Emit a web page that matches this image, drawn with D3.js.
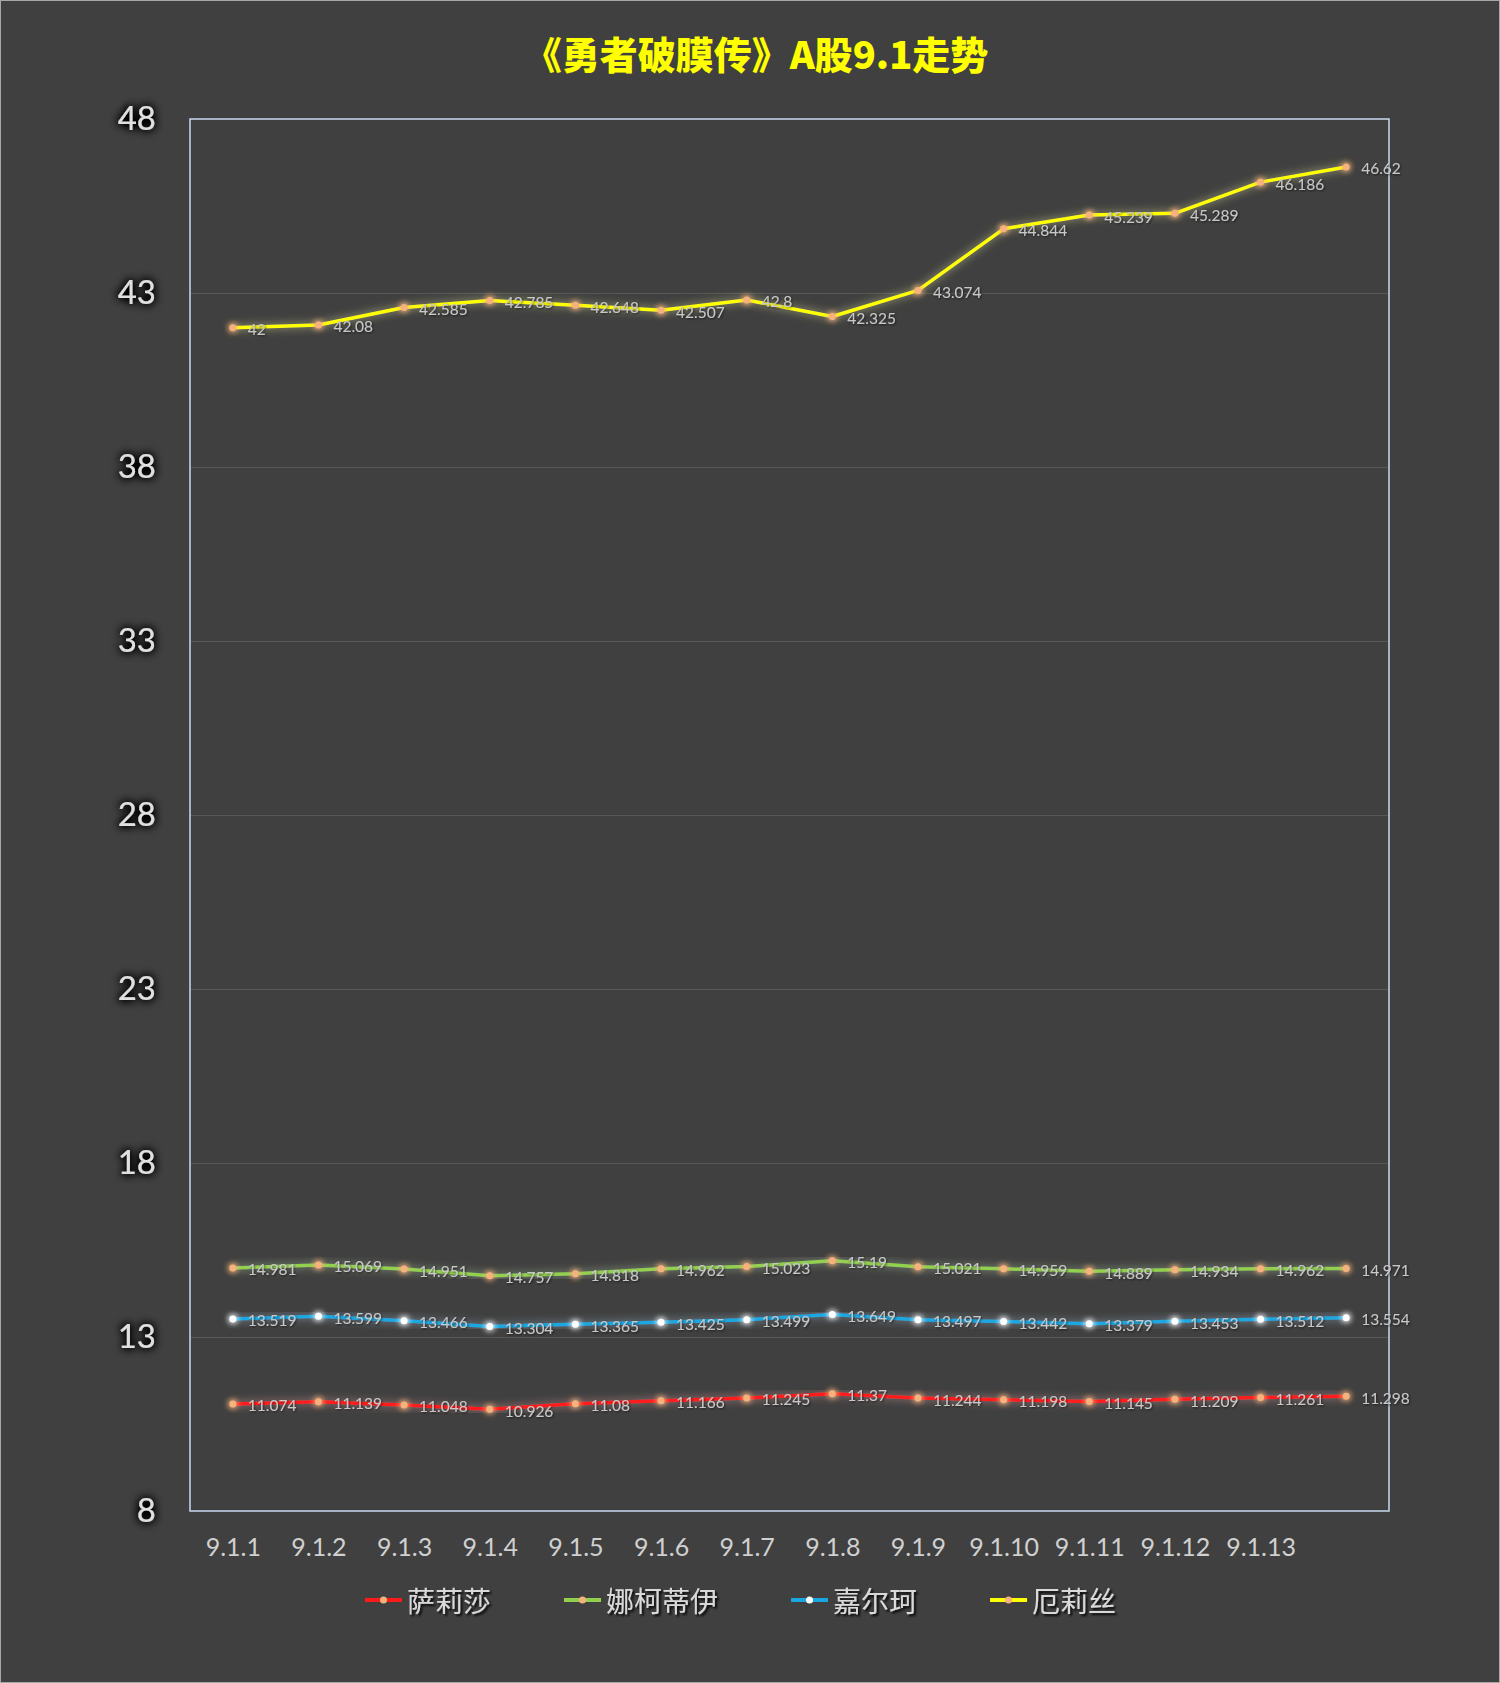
<!DOCTYPE html>
<html>
<head>
<meta charset="utf-8">
<script src="https://cdnjs.cloudflare.com/ajax/libs/d3/7.8.5/d3.min.js"></script>
<style>
  body { margin: 0; background: #404040; }
  svg { display: block; }
</style>
</head>
<body>
<div id="chart"></div>
<script>
// chart data
var dates = ["9.1.1", "9.1.2", "9.1.3", "9.1.4", "9.1.5", "9.1.6", "9.1.7",
  "9.1.8", "9.1.9", "9.1.10", "9.1.11", "9.1.12", "9.1.13", ""];
var seriesNames = ["萨莉莎", "娜柯蒂伊", "嘉尔珂", "厄莉丝"];
var salisha = [11.074, 11.139, 11.048, 10.926, 11.08, 11.166, 11.245, 11.37, 11.244, 11.198, 11.145, 11.209, 11.261, 11.298];
var nakediyi = [14.981, 15.069, 14.951, 14.757, 14.818, 14.962, 15.023, 15.19, 15.021, 14.959, 14.889, 14.934, 14.962, 14.971];
var jiaerke = [13.519, 13.599, 13.466, 13.304, 13.365, 13.425, 13.499, 13.649, 13.497, 13.442, 13.379, 13.453, 13.512, 13.554];
var elisi = [42, 42.08, 42.585, 42.785, 42.648, 42.507, 42.8, 42.325, 43.074, 44.844, 45.239, 45.289, 46.186, 46.62];
var yTicks = [8, 13, 18, 23, 28, 33, 38, 43, 48];

var lineColors = ["#ff1a1a", "#92d050", "#1aa7e0", "#ffff00"];
var markerColors = ["#f6b27c", "#f6b27c", "#ffffff", "#f6b27c"];

var svgWidth = 1500;
var svgHeight = 1683;

var margin = { top: 119, right: 111, bottom: 172, left: 190 };
var width = svgWidth - margin.left - margin.right;
var height = svgHeight - margin.top - margin.bottom;

var svg = d3.select("#chart")
  .append("svg")
  .attr("width", svgWidth)
  .attr("height", svgHeight);

// filters: glow for lines/markers, dark halo for text
var defs = svg.append("defs");

var glow = defs.append("filter").attr("id", "glow")
  .attr("x", "-20%").attr("y", "-20%").attr("width", "140%").attr("height", "140%");
glow.append("feGaussianBlur").attr("in", "SourceGraphic").attr("stdDeviation", 4.5).attr("result", "blur");
glow.append("feColorMatrix").attr("in", "blur").attr("type", "matrix")
  .attr("values", "0.5 0 0 0 0.35  0 0.5 0 0 0.35  0 0 0.5 0 0.35  0 0 0 0.7 0")
  .attr("result", "soft");
var gm = glow.append("feMerge");
gm.append("feMergeNode").attr("in", "soft");
gm.append("feMergeNode").attr("in", "SourceGraphic");

var mglow = defs.append("filter").attr("id", "mglow")
  .attr("x", "-150%").attr("y", "-150%").attr("width", "400%").attr("height", "400%");
mglow.append("feGaussianBlur").attr("in", "SourceGraphic").attr("stdDeviation", 3).attr("result", "blur");
var mm = mglow.append("feMerge");
mm.append("feMergeNode").attr("in", "blur");
mm.append("feMergeNode").attr("in", "blur");
mm.append("feMergeNode").attr("in", "SourceGraphic");

var halo = defs.append("filter").attr("id", "halo")
  .attr("x", "-40%").attr("y", "-40%").attr("width", "180%").attr("height", "180%");
halo.append("feGaussianBlur").attr("in", "SourceAlpha").attr("stdDeviation", 5).attr("result", "b");
halo.append("feComponentTransfer").attr("in", "b").attr("result", "b2")
  .append("feFuncA").attr("type", "linear").attr("slope", 2.5);
var hm = halo.append("feMerge");
hm.append("feMergeNode").attr("in", "b2");
hm.append("feMergeNode").attr("in", "SourceGraphic");

var shadow = defs.append("filter").attr("id", "shadow")
  .attr("x", "-20%").attr("y", "-20%").attr("width", "140%").attr("height", "150%");
shadow.append("feDropShadow").attr("dx", 2).attr("dy", 2).attr("stdDeviation", 1.2)
  .attr("flood-color", "#000").attr("flood-opacity", 0.9);

var lblShadow = defs.append("filter").attr("id", "lblShadow")
  .attr("x", "-20%").attr("y", "-30%").attr("width", "140%").attr("height", "160%");
lblShadow.append("feDropShadow").attr("dx", 1).attr("dy", 1).attr("stdDeviation", 1)
  .attr("flood-color", "#000").attr("flood-opacity", 0.6);

// background and outer border
svg.append("rect")
  .attr("x", 0.5).attr("y", 0.5)
  .attr("width", svgWidth - 1).attr("height", svgHeight - 1)
  .attr("fill", "#404040")
  .attr("stroke", "#a8a8a8");

// title
svg.append("text")
  .attr("x", 756)
  .attr("y", 52)
  .attr("text-anchor", "middle")
  .attr("dominant-baseline", "central")
  .style("font-family", "'Noto Sans CJK SC', sans-serif")
  .style("font-weight", "900")
  .style("font-size", "38px")
  .attr("fill", "#ffff00")
  .text("《勇者破膜传》A股9.1走势");

var chartGroup = svg.append("g")
  .attr("transform", `translate(${margin.left}, ${margin.top})`);

// scales
var xScale = d3.scalePoint()
  .domain(dates)
  .range([0, width])
  .padding(0.5);

var yScale = d3.scaleLinear()
  .domain([8, 48])
  .range([height, 0]);

// gridlines
var grid = chartGroup.append("g")
  .call(d3.axisLeft(yScale).tickValues(yTicks.slice(1, -1)).tickSize(-width).tickFormat(""));
grid.select(".domain").remove();
grid.selectAll("line").attr("stroke", "#575757").attr("stroke-width", 1);

// plot area border
chartGroup.append("rect")
  .attr("width", width)
  .attr("height", height)
  .attr("fill", "none")
  .attr("stroke", "#c6d9ef")
  .attr("stroke-width", 1.5);

// axes
var leftAxis = chartGroup.append("g")
  .call(d3.axisLeft(yScale).tickValues(yTicks).tickSize(0).tickPadding(34));
leftAxis.select(".domain").remove();
leftAxis.selectAll("text")
  .style("font-family", "Lato, sans-serif")
  .style("font-size", "33px")
  .attr("fill", "#e0e0e0")
  .attr("filter", "url(#halo)");

var bottomAxis = chartGroup.append("g")
  .attr("transform", `translate(0, ${height})`)
  .call(d3.axisBottom(xScale).tickSize(0).tickPadding(27));
bottomAxis.select(".domain").remove();
bottomAxis.selectAll("text")
  .style("font-family", "Lato, sans-serif")
  .style("font-size", "25px")
  .attr("fill", "#d0d0d0");

// series
var allSeries = [salisha, nakediyi, jiaerke, elisi];

var line = d3.line()
  .x((d, i) => xScale(dates[i]))
  .y(d => yScale(d));

allSeries.forEach(function(values, s) {
  var g = chartGroup.append("g");

  g.append("path")
    .datum(values)
    .attr("d", line)
    .attr("fill", "none")
    .attr("stroke", lineColors[s])
    .attr("stroke-width", 3.5)
    .attr("stroke-linejoin", "round")
    .attr("filter", "url(#glow)");

  g.selectAll("circle")
    .data(values)
    .enter()
    .append("circle")
    .attr("cx", (d, i) => xScale(dates[i]))
    .attr("cy", d => yScale(d))
    .attr("r", 3.5)
    .attr("fill", markerColors[s])
    .attr("filter", "url(#mglow)");

  g.selectAll("text")
    .data(values)
    .enter()
    .append("text")
    .attr("x", (d, i) => xScale(dates[i]) + 15)
    .attr("y", d => yScale(d) + 2)
    .attr("dy", "0.35em")
    .style("font-family", "Lato, sans-serif")
    .style("font-size", "15.5px")
    .attr("fill", "#c8c8c8")
    .attr("filter", "url(#lblShadow)")
    .text(d => d);
});

// legend
var legendGap = 73;
var legendX = 365;
var legendY = 1600;
var legend = svg.append("g");

seriesNames.forEach(function(name, s) {
  var item = legend.append("g").attr("transform", `translate(${legendX}, ${legendY})`);
  item.append("line")
    .attr("x1", 0).attr("x2", 37)
    .attr("stroke", lineColors[s])
    .attr("stroke-width", 4);
  item.append("circle")
    .attr("cx", 18.5)
    .attr("r", 3.5)
    .attr("fill", markerColors[s]);
  var t = item.append("text")
    .attr("x", 42)
    .attr("dominant-baseline", "central")
    .style("font-family", "'Noto Sans CJK SC', sans-serif")
    .style("font-size", "28px")
    .attr("fill", "#d9d9d9")
    .attr("filter", "url(#shadow)")
    .text(name);
  legendX += 42 + t.node().getComputedTextLength() + legendGap;
});
</script>
</body>
</html>
